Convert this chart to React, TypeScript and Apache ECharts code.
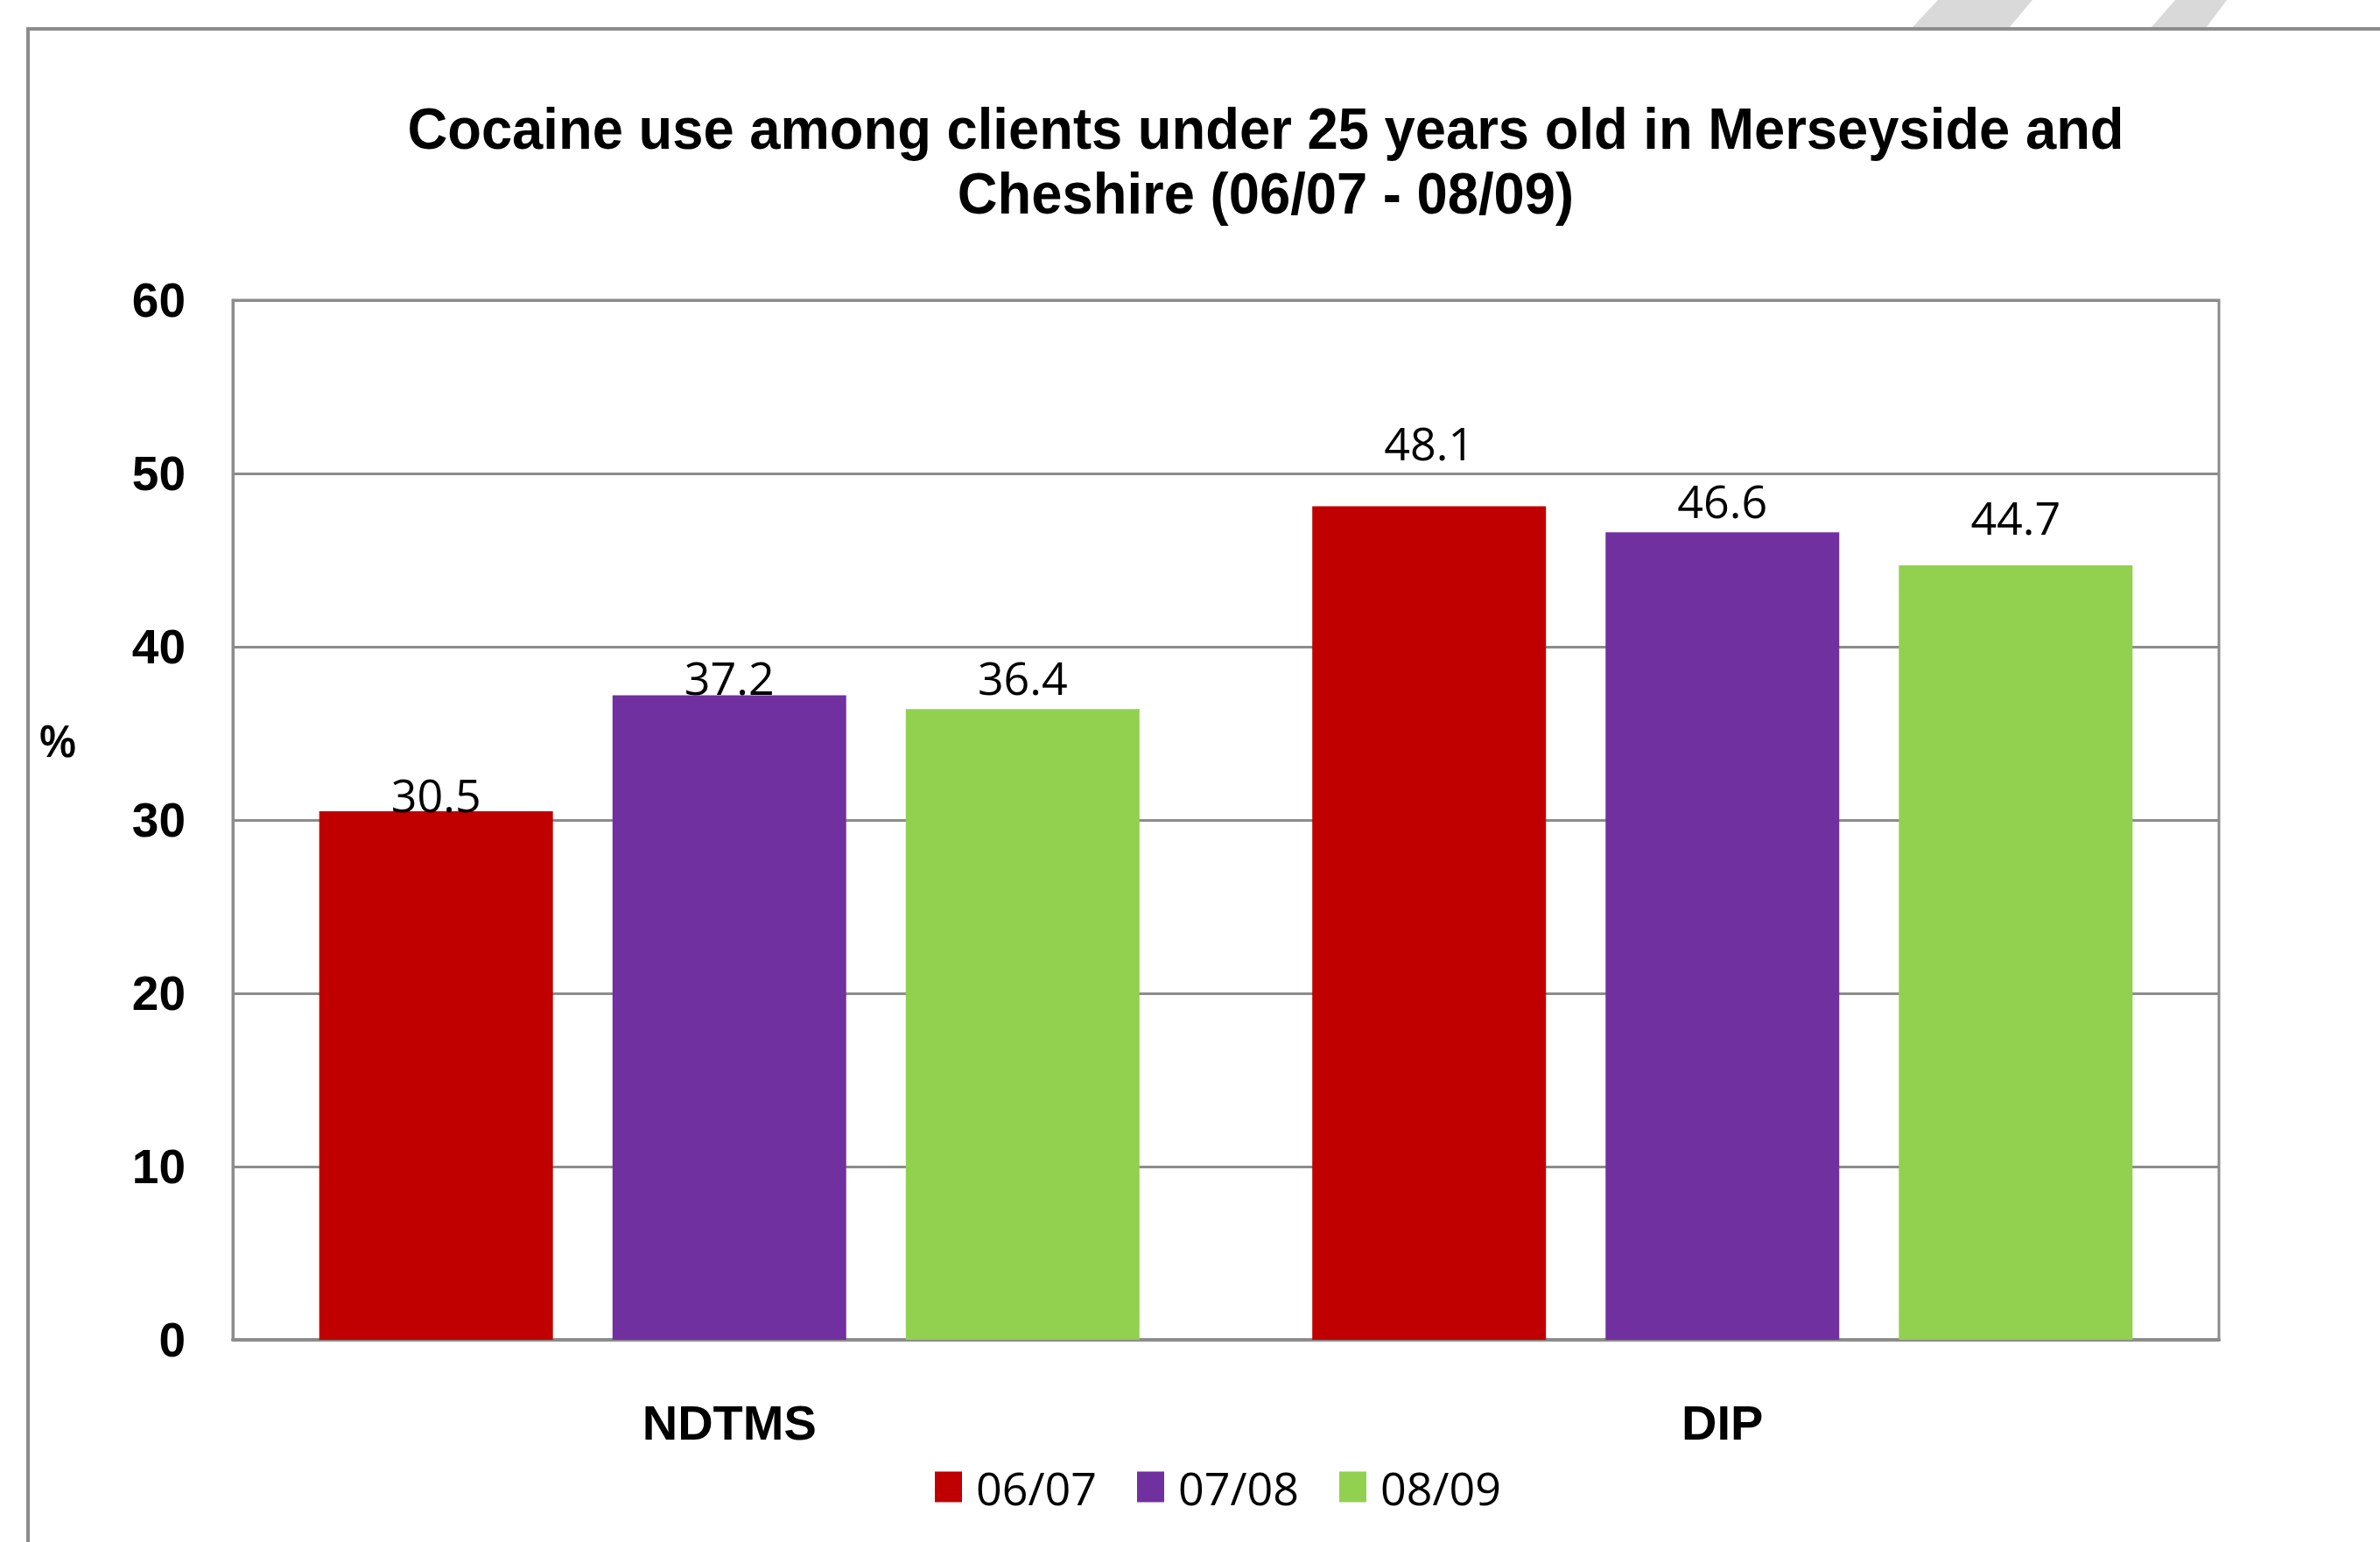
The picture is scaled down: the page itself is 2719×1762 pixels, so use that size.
import React, { useEffect, useRef } from "react";
import * as echarts from "echarts";

const categories = ["NDTMS", "DIP"];
const seriesNames = ["06/07", "07/08", "08/09"];
const values0607 = [30.5, 48.1];
const values0708 = [37.2, 46.6];
const values0809 = [36.4, 44.7];
const yTicks = [0, 10, 20, 30, 40, 50, 60];
const titleLines = [
  "Cocaine use among clients under 25 years old in Merseyside and",
  "Cheshire (06/07 - 08/09)",
];

// styling (label lift above bar top, in px)
const colors = ["#C00000", "#7030A0", "#92D050"];
const labelLift = [
  [20, 73],
  [21, 37],
  [37, 55],
];

const GRAY = "#8c8c8c";
const BOLD = "'Liberation Sans', Arial, sans-serif";
const REG = "'Open Sans', 'Noto Sans', sans-serif";

export default function App() {
  const ref = useRef<HTMLDivElement>(null);
  useEffect(() => {
    if (!ref.current) return;
    const chart = echarts.init(ref.current, null, { renderer: "svg" });
    const allValues = [values0607, values0708, values0809];
    const option = {
      animation: false,
      backgroundColor: "#ffffff",
      graphic: [
        {
          type: "polygon",
          shape: { points: [[2214, 0], [2322, 0], [2295, 32], [2184, 32]] },
          style: { fill: "#d9d9d9" },
        },
        {
          type: "polygon",
          shape: { points: [[2485, 0], [2544, 0], [2520, 32], [2457, 32]] },
          style: { fill: "#d9d9d9" },
        },
        {
          type: "polyline",
          shape: { points: [[32, 1780], [32, 33], [2740, 33]] },
          style: { stroke: GRAY, lineWidth: 4, fill: null },
        },
        {
          type: "text",
          x: 1446,
          y: 147,
          scaleX: 0.96,
          style: {
            text: titleLines[0],
            x: 0,
            y: 0,
            align: "center",
            verticalAlign: "middle",
            font: `bold 66px ${BOLD}`,
            fill: "#000",
          },
        },
        {
          type: "text",
          x: 1446,
          y: 221,
          scaleX: 0.96,
          style: {
            text: titleLines[1],
            x: 0,
            y: 0,
            align: "center",
            verticalAlign: "middle",
            font: `bold 66px ${BOLD}`,
            fill: "#000",
          },
        },
        {
          type: "text",
          x: 66,
          y: 847,
          scaleX: 0.9,
          style: {
            text: "%",
            x: 0,
            y: 0,
            align: "center",
            verticalAlign: "middle",
            font: `bold 52px ${BOLD}`,
            fill: "#000",
          },
        },
      ],
      legend: {
        data: seriesNames,
        left: 1063,
        top: 1668,
        icon: "rect",
        itemWidth: 31,
        itemHeight: 35,
        itemGap: 46,
        textStyle: {
          fontFamily: REG,
          fontSize: 52,
          color: "#000",
          padding: [0, 0, 0, 11],
        },
      },
      grid: {
        left: 266,
        right: 184,
        top: 343,
        bottom: 231,
        show: true,
        borderColor: GRAY,
        borderWidth: 3,
        containLabel: false,
      },
      xAxis: {
        type: "category",
        data: categories,
        axisLine: { show: true, lineStyle: { color: GRAY, width: 4 } },
        axisTick: { show: false },
        axisLabel: {
          margin: 66,
          fontFamily: BOLD,
          fontWeight: "bold",
          fontSize: 56,
          lineHeight: 56,
          color: "#000",
        },
      },
      yAxis: {
        type: "value",
        min: yTicks[0],
        max: yTicks[yTicks.length - 1],
        interval: 10,
        axisLine: { show: true, lineStyle: { color: GRAY, width: 3 } },
        axisTick: { show: false },
        splitLine: { show: true, lineStyle: { color: GRAY, width: 3 } },
        axisLabel: {
          margin: 54,
          fontFamily: BOLD,
          fontWeight: "bold",
          fontSize: 55,
          color: "#000",
        },
      },
      series: seriesNames.map((name, s) => ({
        name,
        type: "bar",
        barGap: "25.5%",
        barCategoryGap: "17.4%",
        itemStyle: { color: colors[s] },
        label: {
          show: true,
          position: "top",
          verticalAlign: "middle",
          fontFamily: REG,
          fontSize: 52,
          color: "#000",
        },
        data: allValues[s].map((v, i) => ({
          value: v,
          label: { distance: labelLift[s][i] },
        })),
      })),
    };
    chart.setOption(option as any);
    return () => chart.dispose();
  }, []);
  return (
    <div
      ref={ref}
      style={{ position: "absolute", left: 0, top: 0, width: 2719, height: 1762 }}
    />
  );
}
